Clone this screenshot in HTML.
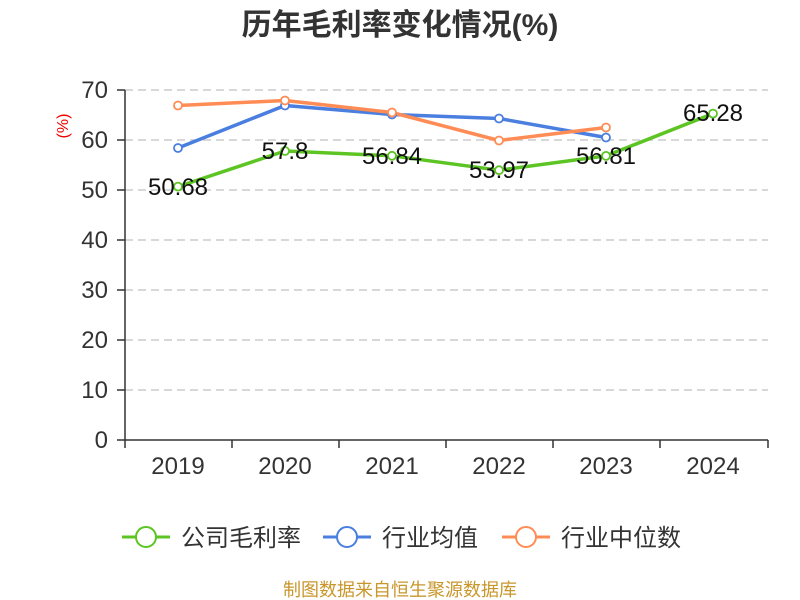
<!DOCTYPE html>
<html><head><meta charset="utf-8"><style>body{margin:0;background:#fff}svg{display:block}</style></head><body>
<svg width="800" height="600" xmlns="http://www.w3.org/2000/svg" font-family="Liberation Sans, Noto Sans CJK SC, sans-serif">
<text x="400" y="35" text-anchor="middle" font-size="30" font-weight="bold" fill="#333">历年毛利率变化情况(%)</text>
<text x="68" y="126" font-size="16" fill="#e00" text-anchor="middle" transform="rotate(-90 68 126)">(%)</text>
<g stroke="#ccc" stroke-dasharray="8,5" stroke-width="1.5">
<line x1="125" x2="768" y1="90" y2="90"/><line x1="125" x2="768" y1="140" y2="140"/><line x1="125" x2="768" y1="190" y2="190"/><line x1="125" x2="768" y1="240" y2="240"/><line x1="125" x2="768" y1="290" y2="290"/><line x1="125" x2="768" y1="340" y2="340"/><line x1="125" x2="768" y1="390" y2="390"/>
</g>
<g stroke="#333" stroke-width="1.5">
<line x1="125" y1="90" x2="125" y2="440"/><line x1="125" y1="440" x2="768" y2="440"/>
<line x1="117" x2="125" y1="90" y2="90"/><line x1="117" x2="125" y1="140" y2="140"/><line x1="117" x2="125" y1="190" y2="190"/><line x1="117" x2="125" y1="240" y2="240"/><line x1="117" x2="125" y1="290" y2="290"/><line x1="117" x2="125" y1="340" y2="340"/><line x1="117" x2="125" y1="390" y2="390"/><line x1="117" x2="125" y1="440" y2="440"/>
<line x1="125" x2="125" y1="440" y2="448"/><line x1="232" x2="232" y1="440" y2="448"/><line x1="339" x2="339" y1="440" y2="448"/><line x1="446" x2="446" y1="440" y2="448"/><line x1="553" x2="553" y1="440" y2="448"/><line x1="660" x2="660" y1="440" y2="448"/><line x1="768" x2="768" y1="440" y2="448"/>
</g>
<g font-size="24" fill="#333" text-anchor="end">
<text x="108" y="98">70</text><text x="108" y="148">60</text><text x="108" y="198">50</text><text x="108" y="248">40</text><text x="108" y="298">30</text><text x="108" y="348">20</text><text x="108" y="398">10</text><text x="108" y="448">0</text>
</g>
<g font-size="24" fill="#333" text-anchor="middle">
<text x="178" y="474">2019</text><text x="285" y="474">2020</text><text x="392" y="474">2021</text><text x="499" y="474">2022</text><text x="606" y="474">2023</text><text x="713" y="474">2024</text>
</g>
<g fill="none" stroke-width="3.5" stroke-linejoin="round">
<polyline stroke="#4a7fe0" points="178,148 285,105.5 392,114.5 499,118.5 606,137.5"/>
<polyline stroke="#ff8c55" points="178,105.5 285,100.5 392,112.5 499,140.5 606,127.5"/>
<polyline stroke="#5cc524" points="178,186.6 285,151 392,155.8 499,170.2 606,155.9 713,113.6"/>
</g>
<g fill="#fff" stroke-width="1.8">
<g stroke="#4a7fe0"><circle cx="178" cy="148" r="4"/><circle cx="285" cy="105.5" r="4"/><circle cx="392" cy="114.5" r="4"/><circle cx="499" cy="118.5" r="4"/><circle cx="606" cy="137.5" r="4"/></g>
<g stroke="#ff8c55"><circle cx="178" cy="105.5" r="4"/><circle cx="285" cy="100.5" r="4"/><circle cx="392" cy="112.5" r="4"/><circle cx="499" cy="140.5" r="4"/><circle cx="606" cy="127.5" r="4"/></g>
<g stroke="#5cc524"><circle cx="178" cy="186.6" r="4"/><circle cx="285" cy="151" r="4"/><circle cx="392" cy="155.8" r="4"/><circle cx="499" cy="170.2" r="4"/><circle cx="606" cy="155.9" r="4"/><circle cx="713" cy="113.6" r="4"/></g>
</g>
<g font-size="24" fill="#111" text-anchor="middle">
<text x="178" y="195">50.68</text><text x="285" y="159">57.8</text><text x="392" y="164">56.84</text><text x="499" y="178">53.97</text><text x="606" y="164">56.81</text><text x="713" y="121">65.28</text>
</g>
<g font-size="24" fill="#333">
<line x1="122" x2="170" y1="537" y2="537" stroke="#5cc524" stroke-width="3"/><circle cx="146" cy="537" r="10" fill="#fff" stroke="#5cc524" stroke-width="2"/><text x="181" y="546">公司毛利率</text>
<line x1="323" x2="371" y1="537" y2="537" stroke="#4a7fe0" stroke-width="3"/><circle cx="347" cy="537" r="10" fill="#fff" stroke="#4a7fe0" stroke-width="2"/><text x="382" y="546">行业均值</text>
<line x1="502" x2="550" y1="537" y2="537" stroke="#ff8c55" stroke-width="3"/><circle cx="526" cy="537" r="10" fill="#fff" stroke="#ff8c55" stroke-width="2"/><text x="561" y="546">行业中位数</text>
</g>
<text x="400" y="596" text-anchor="middle" font-size="18" fill="#c8962a">制图数据来自恒生聚源数据库</text>
</svg>
</body></html>
